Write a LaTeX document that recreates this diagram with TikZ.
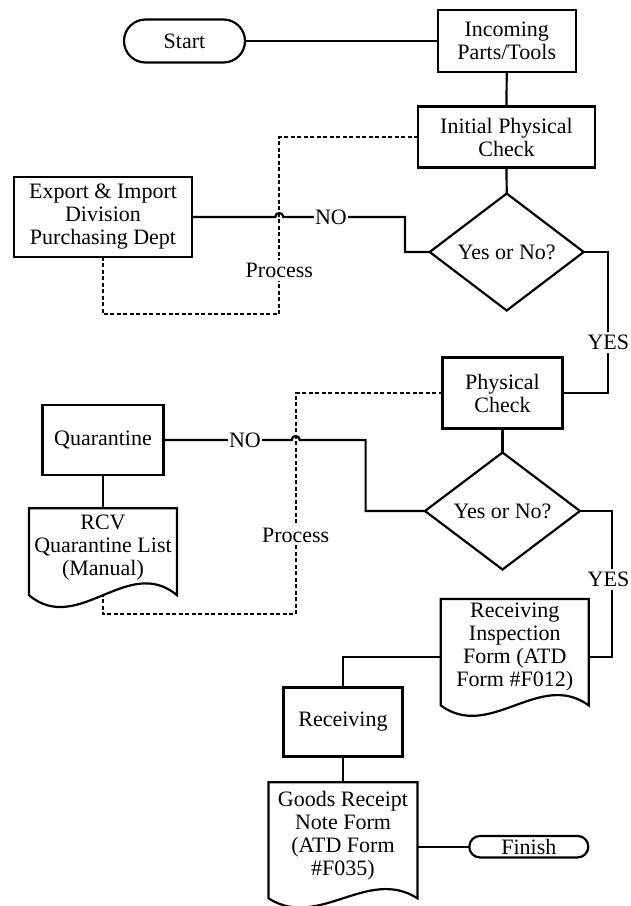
\documentclass[tikz,border=0pt]{standalone}
\usepackage{fontspec}
\setmainfont{Liberation Serif}
\usetikzlibrary{shapes.geometric,shapes.misc,calc}
\begin{document}
\begin{tikzpicture}[x=1pt,y=-1pt,
  lw/.style={line width=2.2pt},
  txt/.style={font=\fontsize{22}{23}\selectfont, align=center},
  box/.style={txt, draw, lw, rectangle, inner sep=0pt, outer sep=0pt},
  term/.style={txt, draw, lw, rounded rectangle, inner sep=0pt, outer sep=0pt},
  dec/.style={txt, draw, lw, diamond, inner sep=0pt, outer sep=0pt, aspect=1.316},
  docframe/.style={rectangle, inner sep=0pt, outer sep=0pt},
  conn/.style={lw, line join=miter},
  dots/.style={lw, dash pattern=on 4pt off 2.5pt},
  lbl/.style={txt, fill=white, inner xsep=1pt, inner ysep=3pt},
]
\fill[white] (0,0) rectangle (630,906);
\useasboundingbox (0,0) rectangle (630,906);

% nodes
\node[term, minimum width=121pt, minimum height=43pt] (start) at (184.5,41) {Start};
\node[box, minimum width=138pt, minimum height=62pt] (inc) at (506.7,41) {Incoming\\Parts/Tools};
\node[box, minimum width=177pt, minimum height=61pt] (init) at (506.5,137) {Initial Physical\\Check};
\node[dec, minimum width=154pt, minimum height=117pt] (d1) at (506.7,252) {Yes or No?};
\node[box, minimum width=178pt, minimum height=80pt] (exp) at (103,217) {Export \& Import\\Division\\Purchasing Dept};
\node[box, minimum width=120pt, minimum height=71pt] (phys) at (502.5,393) {Physical\\Check};
\node[dec, minimum width=155pt, minimum height=117pt] (d2) at (502.5,511) {Yes or No?};
\node[box, minimum width=121pt, minimum height=70pt] (quar) at (103,440) {Quarantine};

\node[docframe, minimum width=148pt, minimum height=87pt] (rcv) at (103,551.7) {};
\node[txt] (rcvt) at (103,547.5) {RCV\\Quarantine List\\(Manual)};
\draw[conn] (rcv.south west) -- (rcv.north west) -- (rcv.north east) -- (rcv.south east)
  .. controls +(-49,-41) and +(49,41) .. (rcv.south west) -- cycle;

\node[docframe, minimum width=148pt, minimum height=106.5pt] (ri) at (514.8,652.2) {};
\node[txt] (rit) at (514.8,647.5) {Receiving\\Inspection\\Form (ATD\\Form \#F012)};
\draw[conn] (ri.south west) -- (ri.north west) -- (ri.north east) -- (ri.south east)
  .. controls +(-49,-36) and +(49,36) .. (ri.south west) -- cycle;

\node[box, minimum width=119pt, minimum height=69pt] (rec) at (343,722) {Receiving};

\node[docframe, minimum width=149pt, minimum height=116pt] (goods) at (343,840.3) {};
\node[txt] (goodst) at (343,836) {Goods Receipt\\Note Form\\(ATD Form\\\#F035)};
\draw[conn] (goods.south west) -- (goods.north west) -- (goods.north east) -- (goods.south east)
  .. controls +(-50,-32) and +(50,32) .. (goods.south west) -- cycle;

\node[term, minimum width=119pt, minimum height=21.5pt] (fin) at (528.8,846.7) {Finish};

% helper coordinates
\coordinate (p1a) at (279.3,137);
\coordinate (p1b) at (279.3,314.3);
\coordinate (p1c) at (103,314.3);
\coordinate (j1a) at (275.3,217);
\coordinate (j1b) at (283.3,217);
\coordinate (k1a) at (405,217);
\coordinate (k1b) at (405,252);
\coordinate (y1a) at (608.3,252);
\coordinate (y1b) at (608.3,393);

\coordinate (p2a) at (295.7,393);
\coordinate (p2b) at (295.7,614.3);
\coordinate (p2c) at (103,614.3);
\coordinate (j2a) at (291.7,440);
\coordinate (j2b) at (299.7,440);
\coordinate (k2a) at (365.6,440);
\coordinate (k2b) at (365.6,511);
\coordinate (y2a) at (611.7,511);
\coordinate (rir) at ($(ri.east)+(0,5)$);
\coordinate (ril) at ($(ri.west)+(0,5)$);
\coordinate (y2b) at (rir -| y2a);
\coordinate (r1) at (ril -| rec.north);
\coordinate (ge) at ($(goods.east)+(0,6.4)$);

% dotted process lines
\draw[dots] (init.west) -- (p1a) -- (p1b) -- (p1c) -- (exp.south);
\draw[dots] (phys.west) -- (p2a) -- (p2b) -- (p2c) -- (rcv.south);

% solid connectors
\draw[conn] (start.east) -- (inc.west);
\draw[conn] (inc.south) -- (init.north);
\draw[conn] (init.south) -- (d1.north);
\draw[conn] (exp.east) -- (j1a) .. controls ($(j1a)+(0,-5.3)$) and ($(j1b)+(0,-5.3)$) .. (j1b) -- (k1a) -- (k1b) -- (d1.west);
\draw[conn] (d1.east) -- (y1a) -- (y1b) -- (phys.east);
\draw[conn] (phys.south) -- (d2.north);
\draw[conn] (quar.east) -- (j2a) .. controls ($(j2a)+(0,-5.3)$) and ($(j2b)+(0,-5.3)$) .. (j2b) -- (k2a) -- (k2b) -- (d2.west);
\draw[conn] (quar.south) -- (rcv.north);
\draw[conn] (d2.east) -- (y2a) -- (y2b) -- (rir);
\draw[conn] (ril) -- (r1) -- (rec.north);
\draw[conn] (rec.south) -- (goods.north);
\draw[conn] (ge) -- (fin.west);

% labels
\node[lbl] (no1) at (331,217) {NO};
\node[lbl] (no2) at (245,440) {NO};
\node[lbl, inner xsep=3pt] (pr1) at (279.3,270.7) {Process};
\node[lbl, inner xsep=3pt] (pr2) at (295.7,535) {Process};
\node[lbl] (yes1) at (608.3,342.5) {YES};
\node[lbl] (yes2) at (608.5,579.5) {YES};
\end{tikzpicture}
\end{document}
